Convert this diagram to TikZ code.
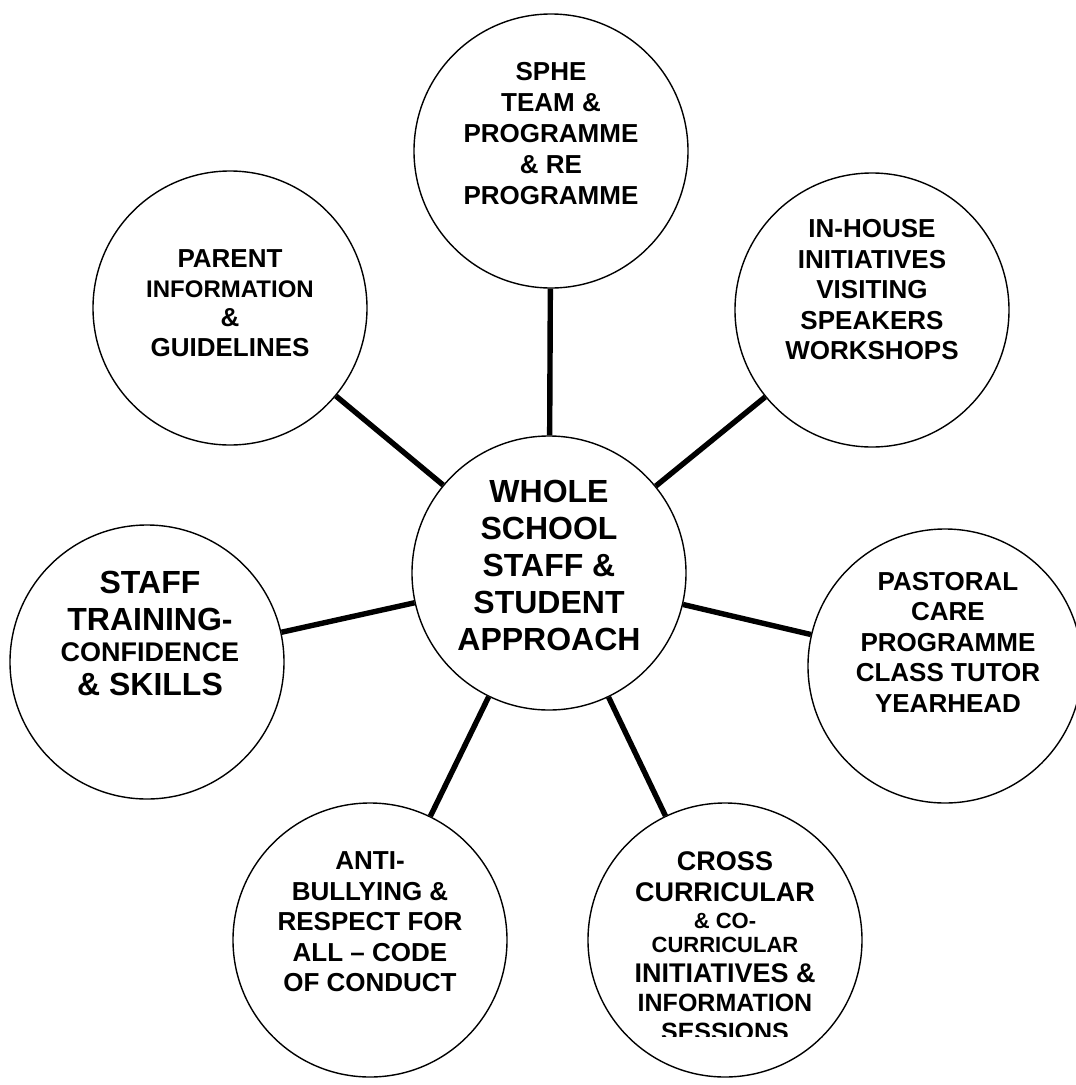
\documentclass[tikz,border=0pt]{standalone}
\usepackage{fontspec}
\setmainfont{Liberation Sans}
\begin{document}
\begin{tikzpicture}[x=1pt,y=-1pt,
  bubble/.style={shape=circle,draw=black,line width=1.4pt,minimum size=274pt,inner sep=0pt},
  blurb/.style={align=center,inner sep=0pt,font=\bfseries\fontsize{26}{30.5}\selectfont},
  spoke/.style={line width=5.4pt}]
  \useasboundingbox (0,0) rectangle (1076,1085);
  % circles
  \node[bubble] (hub) at (549,573) {};
  \node[bubble] (sphe) at (551,151) {};
  \node[bubble] (parent) at (230,308) {};
  \node[bubble] (inhouse) at (872,310) {};
  \node[bubble] (staff) at (147,662) {};
  \node[bubble] (pastoral) at (945,666) {};
  \node[bubble] (anti) at (370,940) {};
  \node[bubble] (cross) at (725,940) {};
  % texts
  \node[blurb,font=\bfseries\fontsize{32}{37}\selectfont] (hub-txt) at ([yshift=8pt]hub) {WHOLE\\SCHOOL\\STAFF \&\\STUDENT\\APPROACH};
  \node[blurb,font=\bfseries\fontsize{26}{31}\selectfont] (sphe-txt) at ([yshift=17pt]sphe) {SPHE\\TEAM \&\\PROGRAMME\\\& RE\\PROGRAMME};
  \node[blurb,font=\bfseries\fontsize{26}{29.5}\selectfont] (parent-txt) at ([yshift=5pt]parent) {PARENT\\{\fontsize{24}{29.5}\selectfont INFORMATION}\\\&\\GUIDELINES};
  \node[blurb] (inhouse-txt) at ([yshift=20pt]inhouse) {IN-HOUSE\\INITIATIVES\\VISITING\\SPEAKERS\\WORKSHOPS};
  \node[blurb,font=\bfseries\fontsize{32}{34}\selectfont] (staff-txt) at ([xshift=3pt,yshift=29pt]staff) {STAFF\\[3pt]TRAINING-\\[-3pt]{\fontsize{27}{34}\selectfont CONFIDENCE}\\\& SKILLS};
  \node[blurb] (pastoral-txt) at ([xshift=3pt,yshift=24pt]pastoral) {PASTORAL\\CARE\\PROGRAMME\\CLASS TUTOR\\YEARHEAD};
  \node[blurb] (anti-txt) at ([yshift=18pt]anti) {ANTI-\\BULLYING \&\\RESPECT FOR\\ALL -- CODE\\OF CONDUCT};
  \begin{scope}
    \clip (580,800) rectangle (870,1036);
    \node[blurb,font=\bfseries\fontsize{27}{29}\selectfont] (cross-txt) at ([yshift=-6pt]cross) {CROSS\\[2pt]CURRICULAR\\[-2pt]{\fontsize{22}{29}\selectfont \& CO-}\\[-5pt]{\fontsize{22}{29}\selectfont CURRICULAR}\\[1pt]INITIATIVES \&\\{\fontsize{25}{29}\selectfont INFORMATION}\\{\fontsize{25}{29}\selectfont SESSIONS}};
  \end{scope}
  % spokes
  \path[spoke] (hub) edge (sphe);
  \path[spoke] (hub) edge (parent);
  \path[spoke] (hub) edge (inhouse);
  \path[spoke] (hub) edge (staff);
  \path[spoke] (hub) edge (pastoral);
  \path[spoke] (hub) edge (anti);
  \path[spoke] (hub) edge (cross);
\end{tikzpicture}
\end{document}
